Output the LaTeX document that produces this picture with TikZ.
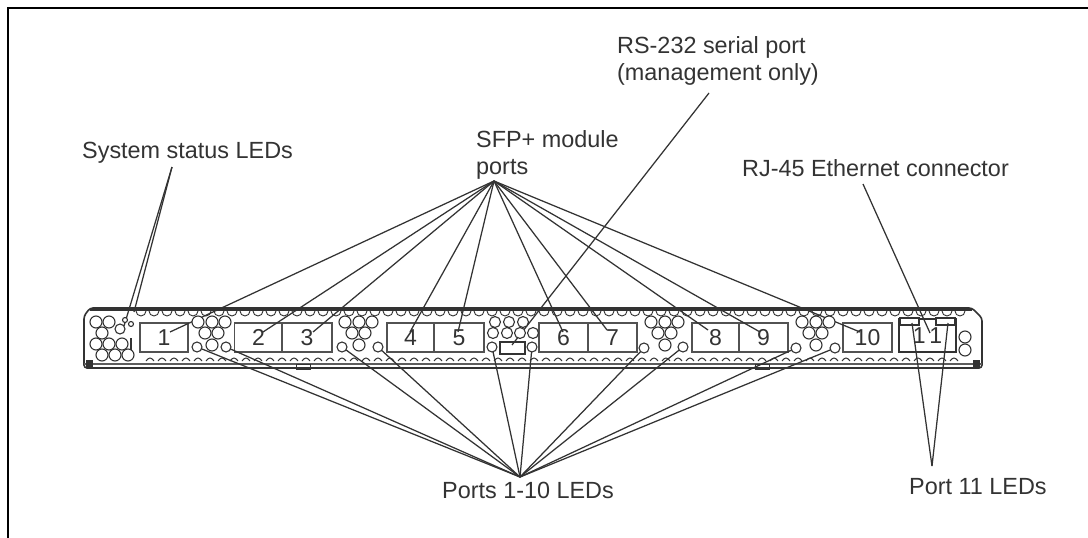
\documentclass[tikz,border=0pt]{standalone}
\usepackage{fontspec}
\setmainfont{Liberation Sans}
\definecolor{ink}{HTML}{333333}
\tikzset{
 lbl/.style={anchor=base west,inner sep=0,text=ink,font=\fontsize{23.4}{26}\selectfont},
 portbox/.style={draw=ink!85,line width=1.2pt,minimum height=29pt,inner sep=0,text=ink,font=\fontsize{23}{25}\selectfont},
 lead/.style={draw=ink,line width=1.25pt},
 hole/.style={circle,draw=ink,fill=white,line width=1.1pt,minimum size=12pt,inner sep=0},
 led/.style={circle,draw=ink,fill=white,line width=1.1pt,minimum size=10pt,inner sep=0},
 pt/.style={coordinate}
}
\begin{document}
\begin{tikzpicture}[x=1pt,y=-1pt]
\useasboundingbox (0,0) rectangle (1088,538);
\fill[white] (0,0) rectangle (1088,538);
\draw[black,line width=1.8pt] (8,538) -- (8,8) -- (1088,8);
% device body
\draw[ink,line width=1.6pt,rounded corners=3pt] (90,308) -- (972,308) -- (982,318) -- (982,368) -- (84,368) -- (84,316) -- cycle;
\draw[ink,line width=2.6pt] (90,309.5) -- (972,309.5);
\draw[ink!80,line width=1.2pt] (84,364) -- (982,364);
\fill[ink] (86,360) rectangle (93,367);
\fill[ink] (973,360) rectangle (980,367);
\draw[ink,line width=1pt] (296,364) rectangle (310,369);
\draw[ink,line width=1pt] (755,364) rectangle (769,369);
\foreach \x in {136,149,...,960} \draw[ink,line width=.9pt] (\x,311) arc[start angle=180,end angle=360,radius=5pt];
\foreach \x in {146,158,...,960} \draw[ink,line width=1pt] (\x,361) .. controls (\x+3,357) and (\x+5,357) .. (\x+8,361);
% ports
\node[portbox,minimum width=48pt] (p1) at (164,337.5) {1};
\node[portbox,minimum width=48pt] (p2) at (258.5,337.5) {2};
\node[portbox,minimum width=50pt] (p3) at (307,337.5) {3};
\node[portbox,minimum width=47pt] (p4) at (410.5,337.5) {4};
\node[portbox,minimum width=50pt] (p5) at (459,337.5) {5};
\node[portbox,minimum width=49pt] (p6) at (563.5,337.5) {6};
\node[portbox,minimum width=49pt] (p7) at (612.5,337.5) {7};
\node[portbox,minimum width=47pt] (p8) at (715.5,337.5) {8};
\node[portbox,minimum width=49pt] (p9) at (763.5,337.5) {9};
\node[portbox,minimum width=49pt] (p10) at (867.5,337.5) {10};
\node[portbox,draw=ink,minimum width=57pt,minimum height=33pt,line width=1.5pt] (p11) at (927.5,335.5) {1\,1};
\node[draw=ink,fill=white,line width=1.4pt,minimum width=19pt,minimum height=7pt,inner sep=0] (lk) at (909.5,321.5) {};
\node[draw=ink,fill=white,line width=1.4pt,minimum width=19pt,minimum height=7pt,inner sep=0] (la) at (945.5,321.5) {};
% label anchors
\coordinate (sysA) at (172,167);
\coordinate (sys1) at (124,326);
\coordinate (sys2) at (134,312);
\coordinate (sfpA) at (494,181);
\coordinate (t1) at (170,332);
\coordinate (t2) at (263,332);
\coordinate (t3) at (313,332);
\coordinate (t4) at (410,332);
\coordinate (t5) at (458,332);
\coordinate (t6) at (563,332);
\coordinate (t7) at (607,330);
\coordinate (t8) at (708,330);
\coordinate (t9) at (760,332);
\coordinate (t10) at (860,332);
\coordinate (rsA) at (709,93);
\coordinate (rsB) at (512,345);
\coordinate (rsC) at (514.3,342);
\coordinate (rjA) at (863,184);
\coordinate (rjB) at (930,333);
\coordinate (ledA) at (520,477);
\coordinate (p11A) at (932,466);
\coordinate (l11a) at (912,323);
\coordinate (l11b) at (948,323);
\coordinate (l1) at (197,347);
\coordinate (l2) at (226,347);
\coordinate (l3) at (342,347);
\coordinate (l4) at (378,347);
\coordinate (l5) at (492,347);
\coordinate (l6) at (532,347);
\coordinate (l7) at (644,348);
\coordinate (l8) at (683,347);
\coordinate (l9) at (796,348);
\coordinate (l10) at (835,348);
% leaders
\draw[lead] (sysA) -- (sys1);
\draw[lead] (sysA) -- (sys2);
\foreach \t in {t1,t2,t3,t4,t5,t6,t7,t8,t9,t10} \draw[lead] (sfpA) -- (\t);
\draw[lead] (rsA) -- (rsB);
\draw[lead] (rjA) -- (rjB);
\foreach \t in {l1,l2,l3,l4,l5,l6,l7,l8,l9,l10} \draw[lead] (ledA) -- (\t);
\draw[lead] (p11A) -- (l11a);
\draw[lead] (p11A) -- (l11b);
% hole clusters
\foreach \d/\n in {198/a,345/b,651/c,802/d}{
 \foreach \dx/\y in {0/322,14/322,27/322,7/333,20/333,14/345}
  \node[hole] at (\d+\dx,\y) {};
}
\foreach \x/\y in {495/322,509/322,523/322,493/333,507/333,520/333,533/333}
 \node[hole,minimum size=11pt] at (\x,\y) {};
\foreach \x/\y in {96/322,109/322,102/333,96/344,109/344,122/344,102/355,115/355,128/355,965/337,965/350}
 \node[hole] at (\x,\y) {};
\node[hole,minimum size=10pt] at (120,329) {};
\node[hole,minimum size=5pt] at (125,320) {};
\node[hole,minimum size=5pt] at (131,324) {};
\draw[ink,line width=1.6pt] (131,338) -- (131,350);
% LEDs
\foreach \c in {l1,l2,l3,l4,l5,l6,l7,l8,l9,l10} \node[led] at (\c) {};
% serial port
\node[draw=ink,fill=white,line width=1.6pt,minimum width=25pt,minimum height=12pt,inner sep=0] (rs) at (512.5,348) {};
\draw[lead] (rsC) -- (rsB);
% labels
\node[lbl] (a) at (82,158) {System status LEDs};
\node[lbl] (b) at (476,147) {SFP+ module};
\node[lbl] (c) at (476,174) {ports};
\node[lbl] (d) at (617,53) {RS-232 serial port};
\node[lbl] (e) at (617,80) {(management only)};
\node[lbl] (f) at (742,176) {RJ-45 Ethernet connector};
\node[lbl] (g) at (442,498) {Ports 1-10 LEDs};
\node[lbl] (h) at (909,494) {Port 11 LEDs};
\end{tikzpicture}
\end{document}
